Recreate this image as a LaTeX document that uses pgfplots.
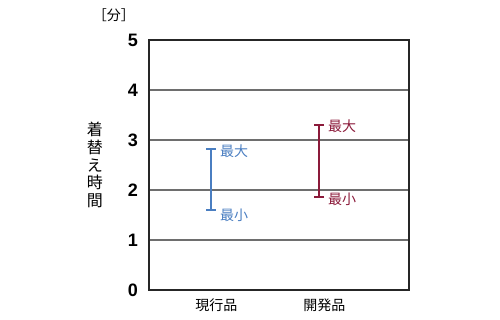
\documentclass[border=0pt]{standalone}
\usepackage{fontspec}
\setmainfont{Liberation Sans}
\newfontfamily\jp{Noto Sans CJK JP}
\usepackage{pgfplots}
\pgfplotsset{compat=1.18}
\definecolor{curblue}{RGB}{74,126,193}
\definecolor{newred}{RGB}{139,26,58}
\definecolor{gridgray}{RGB}{110,110,110}
\begin{document}
\begin{tikzpicture}[x=1pt,y=1pt]
\useasboundingbox (-74.5pt,-15pt) rectangle (175.5pt,145pt);
\begin{axis}[
  at={(0,0)}, anchor=south west,
  scale only axis, width=130pt, height=125pt,
  xmin=-0.574, xmax=1.833, ymin=0, ymax=5,
  xtick={0.05,1.05}, xticklabels={現行品,開発品},
  ytick={0,1,2,3,4,5},
  major tick length=0pt,
  ymajorgrids, grid style={gridgray, line width=0.7pt},
  axis line style={black!85, line width=0.7pt},
  /pgf/number format/assume math mode=true,
  yticklabel style={font=\fontsize{9pt}{10pt}\selectfont\bfseries, xshift=-2pt},
  xticklabel style={font=\jp\fontsize{7pt}{8pt}\selectfont, yshift=-1pt},
  clip=false,
]
% current product: range of dressing time
\addplot[curblue, line width=1pt, mark=-, mark size=2.5pt, mark options={solid, line width=1pt}]
  coordinates {(0,1.6) (0,2.82)};
% developed product
\addplot[newred, line width=1pt, mark=-, mark size=2.5pt, mark options={solid, line width=1pt}]
  coordinates {(1,1.86) (1,3.3)};
\node[anchor=west, text=curblue, font=\jp\fontsize{7pt}{8pt}\selectfont, xshift=1pt, yshift=-1pt] at (axis cs:0,2.82) {最大};
\node[anchor=west, text=curblue, font=\jp\fontsize{7pt}{8pt}\selectfont, xshift=1pt, yshift=-2.5pt] at (axis cs:0,1.6) {最小};
\node[anchor=west, text=newred, font=\jp\fontsize{7pt}{8pt}\selectfont, xshift=1pt, yshift=-0.5pt] at (axis cs:1,3.3) {最大};
\node[anchor=west, text=newred, font=\jp\fontsize{7pt}{8pt}\selectfont, xshift=1pt, yshift=-1pt] at (axis cs:1,1.86) {最小};
% axis titles
\node[font=\jp\fontsize{8pt}{8.8pt}\selectfont, align=center] at ([xshift=-27pt]axis description cs:0,0.5) {着\\替\\え\\時\\間};
\node[font=\jp\fontsize{7pt}{8pt}\selectfont] at ([xshift=-17.5pt, yshift=12.5pt]axis description cs:0,1) {［分］};
\end{axis}
\end{tikzpicture}
\end{document}
